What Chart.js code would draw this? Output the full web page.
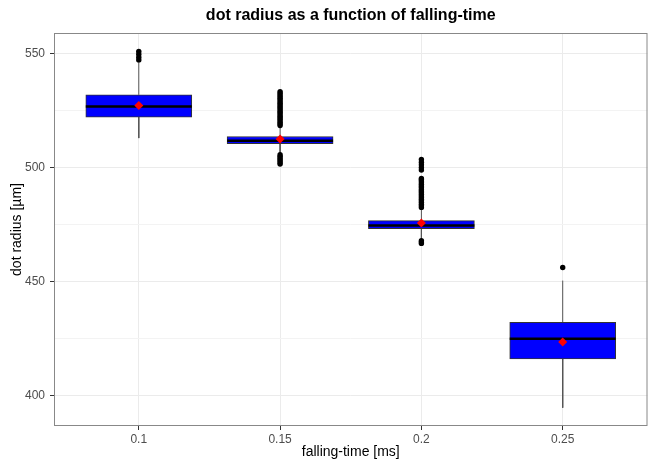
<!DOCTYPE html>
<html>
<head>
<meta charset="utf-8">
<title>dot radius as a function of falling-time</title>
<script src="https://cdn.jsdelivr.net/npm/chart.js@4/dist/chart.umd.min.js"></script>
<style>
  html, body { margin: 0; padding: 0; background: #ffffff; }
  #wrap { width: 652px; height: 461px; }
</style>
</head>
<body>
<div id="wrap"><canvas id="chart" width="652" height="461"></canvas></div>
<script>
'use strict';

// falling-time groups (discrete x axis)
var categories = ['0.1', '0.15', '0.2', '0.25'];

// box statistics, dot radius [µm]
var lowerWhisker = [513.0, 506.4, 468.6, 394.7];
var q1           = [522.2, 510.5, 473.3, 416.1];
var median       = [526.9, 511.8, 474.6, 425.0];
var q3           = [532.0, 513.7, 476.8, 432.2];
var upperWhisker = [546.5, 518.0, 481.9, 450.5];
var means        = [527.3, 512.6, 475.8, 423.6];

// outliers, one list per group
var outliers1 = [547.3, 548.5, 549.8, 551.0];
var outliers2 = [505.7, 505.0, 504.3, 503.6, 502.9, 502.2, 501.6,
                 518.5, 519.2, 519.8, 520.5, 521.3, 521.9, 522.6, 523.4, 524.1, 524.7,
                 525.5, 526.2, 526.9, 527.6, 528.3, 529.0, 529.8, 530.5, 531.2, 531.9,
                 532.7, 533.4];
var outliers3 = [468.0, 467.4, 466.8,
                 482.6, 483.3, 484.0, 484.8, 485.5, 486.2, 486.9, 487.6, 488.4, 489.1,
                 489.8, 490.5, 491.3, 492.0, 492.7, 493.4, 494.2, 494.8, 495.3,
                 499.0, 500.1, 501.3, 502.4, 503.6];
var outliers4 = [456.2];
var outliers = [outliers1, outliers2, outliers3, outliers4];

var yTicks = [400, 425, 450, 475, 500, 525, 550];
var boxWidth = 0.75; // in category units, like ggplot

var whiskerPts = [];
var medianPts = [];
var boxPts = [];
var outlierPts = [];
var meanPts = [];
categories.forEach(function (c, i) {
    var x = i + 1;
    whiskerPts.push({x: x, y: q3[i]}, {x: x, y: upperWhisker[i]}, {x: x, y: null});
    whiskerPts.push({x: x, y: q1[i]}, {x: x, y: lowerWhisker[i]}, {x: x, y: null});
    medianPts.push({x: x - boxWidth / 2, y: median[i]}, {x: x + boxWidth / 2, y: median[i]}, {x: x, y: null});
    boxPts.push({x: x, y: [q1[i], q3[i]]});
    meanPts.push({x: x, y: means[i]});
    outliers[i].forEach(function (v) {
        outlierPts.push({x: x, y: v});
    });
});

var panelBorder = {
    id: 'panelBorder',
    afterDraw: function (chart) {
        var a = chart.chartArea;
        var ctx = chart.ctx;
        ctx.save();
        ctx.strokeStyle = '#888888';
        ctx.lineWidth = 1;
        ctx.strokeRect(a.left + 0.5, a.top + 0.5, a.right - a.left - 1, a.bottom - a.top - 1);
        ctx.fillStyle = '#000000';
        ctx.font = 'bold 16px "Liberation Sans", Arial, sans-serif';
        ctx.textAlign = 'center';
        ctx.textBaseline = 'middle';
        ctx.fillText('dot radius as a function of falling-time', (a.left + a.right) / 2, 16);
        ctx.restore();
    }
};

Chart.defaults.font.family = '"Liberation Sans", Arial, sans-serif';

new Chart(document.getElementById('chart'), {
    type: 'bar',
    data: {
        datasets: [
            {
                type: 'line',
                data: whiskerPts,
                borderColor: '#555555',
                borderWidth: 1,
                pointRadius: 0,
                spanGaps: false,
                order: 5
            },
            {
                type: 'bar',
                data: boxPts,
                backgroundColor: '#0000ff',
                borderColor: '#333333',
                borderWidth: 1,
                borderSkipped: false,
                barThickness: 106,
                grouped: false,
                order: 4
            },
            {
                type: 'line',
                data: medianPts,
                borderColor: '#000000',
                borderWidth: 2.5,
                borderCapStyle: 'butt',
                pointRadius: 0,
                spanGaps: false,
                order: 3
            },
            {
                type: 'scatter',
                data: outlierPts,
                backgroundColor: '#000000',
                borderWidth: 0,
                pointRadius: 2.7,
                order: 2
            },
            {
                type: 'scatter',
                data: meanPts,
                backgroundColor: '#ff0000',
                borderWidth: 0,
                pointStyle: 'rectRot',
                pointRadius: 4.5,
                order: 1
            }
        ]
    },
    options: {
        responsive: false,
        animation: false,
        devicePixelRatio: 1,
        layout: { padding: { top: 33, right: 4, left: 0, bottom: 0 } },
        plugins: {
            legend: { display: false },
            tooltip: { enabled: false },
            title: { display: false }
        },
        scales: {
            x: {
                type: 'linear',
                min: 0.4,
                max: 4.6,
                offset: false,
                afterBuildTicks: function (scale) {
                    scale.ticks = categories.map(function (c, i) { return {value: i + 1}; });
                },
                afterFit: function (scale) { scale.height = 35; },
                ticks: {
                    color: '#4d4d4d',
                    font: { size: 12 },
                    padding: 2,
                    maxRotation: 0,
                    callback: function (v) { return categories[v - 1]; }
                },
                grid: {
                    offset: false,
                    color: '#ebebeb',
                    lineWidth: 1,
                    tickColor: '#333333',
                    tickLength: 4
                },
                border: { display: false },
                title: {
                    display: true,
                    text: 'falling-time [ms]',
                    color: '#000000',
                    font: { size: 14 },
                    padding: { top: 0, bottom: 0 }
                }
            },
            y: {
                type: 'linear',
                min: 386.7,
                max: 559.1,
                afterBuildTicks: function (scale) {
                    scale.ticks = yTicks.map(function (v) { return {value: v}; });
                },
                afterFit: function (scale) { scale.width = 54; },
                ticks: {
                    color: '#4d4d4d',
                    font: { size: 12 },
                    padding: 5,
                    callback: function (v) { return v % 50 === 0 ? String(v) : ''; }
                },
                grid: {
                    color: function (ctx) {
                        return ctx.tick && ctx.tick.value % 50 !== 0 ? '#f3f3f3' : '#ebebeb';
                    },
                    lineWidth: 1,
                    tickColor: function (ctx) {
                        return ctx.tick && ctx.tick.value % 50 !== 0 ? 'rgba(0,0,0,0)' : '#333333';
                    },
                    tickLength: 4
                },
                border: { display: false },
                title: {
                    display: true,
                    text: 'dot radius [µm]',
                    color: '#000000',
                    font: { size: 14 },
                    padding: { top: 9, bottom: 0 }
                }
            }
        }
    },
    plugins: [panelBorder]
});
</script>
</body>
</html>
